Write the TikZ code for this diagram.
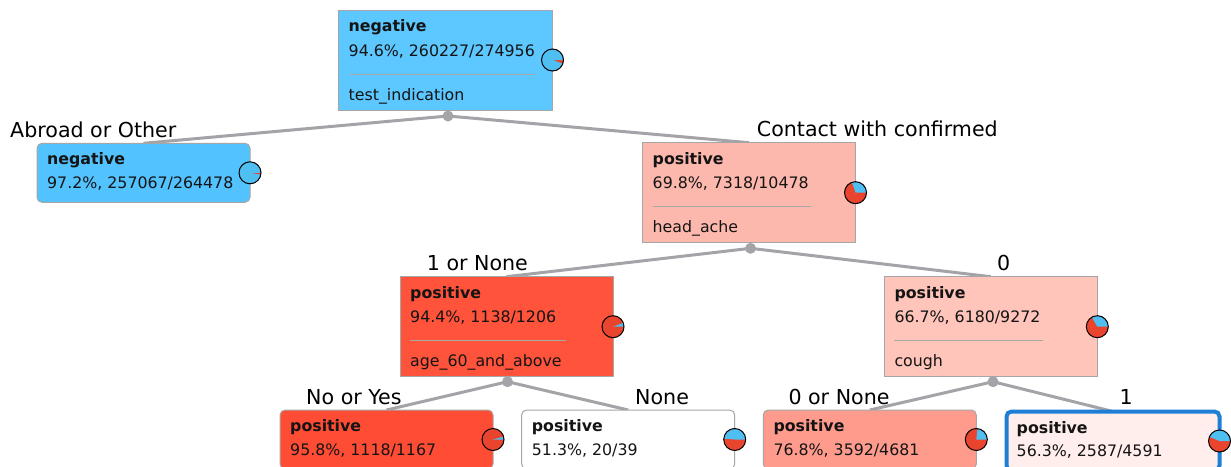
\documentclass[tikz,border=0pt]{standalone}
\usepackage{fontspec}
\setmainfont{DejaVu Sans}
\usetikzlibrary{backgrounds}

\definecolor{edgegray}{HTML}{A4A4A8}
\definecolor{boxgray}{HTML}{A6A6A6}
\definecolor{sepgray}{HTML}{A8A8A8}
\definecolor{pieblue}{HTML}{4FBFF2}
\definecolor{piered}{HTML}{E8442E}
\definecolor{selblue}{HTML}{1F7FD7}
\definecolor{textdark}{HTML}{141414}
% node fills, shaded by class purity
\definecolor{fillroot}{HTML}{5CC8FF}
\definecolor{fillneg}{HTML}{52C3FF}
\definecolor{fillpa}{HTML}{FDB8AD}
\definecolor{fillpb}{HTML}{FF533B}
\definecolor{fillpc}{HTML}{FFC4BA}
\definecolor{fillpd}{HTML}{FF4C34}
\definecolor{fillpe}{HTML}{FFFFFF}
\definecolor{fillpf}{HTML}{FF9B8D}
\definecolor{fillpg}{HTML}{FFEEEB}

\tikzset{
  treebox/.style={draw=boxgray, line width=1pt, anchor=north west,
    inner sep=0pt, outer sep=0pt, minimum width=213pt},
  leafbox/.style={treebox, rounded corners=5pt, minimum height=59pt},
  splitbox/.style={treebox, minimum height=100pt},
  selected/.style={draw=selblue, line width=4pt},
  classtext/.style={anchor=base west, inner sep=0pt, text=textdark,
    font=\fontsize{15.8}{18}\selectfont\bfseries},
  stattext/.style={anchor=base west, inner sep=0pt, text=textdark,
    font=\fontsize{15.8}{18}\selectfont},
  edgelabel/.style={anchor=base west, inner sep=0pt, text=black,
    font=\fontsize{20.6}{24}\selectfont},
  sepline/.style={draw=sepgray, line width=1pt},
  edge/.style={draw=edgegray, line width=3pt},
  dot/.style={circle, fill=edgegray, minimum size=11pt, inner sep=0pt}
}

% split node: name, x, y, fill, class, stats, attribute, separator length
\newcommand\splitnode[8]{%
  \node[splitbox, fill=#4] (#1) at (#2,#3) {};
  \path (#1.north west) ++(10,21.5) node[classtext] {#5}
        (#1.north west) ++(10,46) node[stattext] {#6}
        (#1.north west) ++(10,90) node[stattext] {#7};
  \draw[sepline] (#1.north west) ++(10,64) -- ++(#8,0);
}
% leaf node: [extra style] name, x, y, fill, class, stats
\newcommand\leafnode[7][]{%
  \node[leafbox, fill=#5, #1] (#2) at (#3,#4) {};
  \path (#2.north west) ++(10,21.5) node[classtext] {#6}
        (#2.north west) ++(10,45) node[stattext] {#7};
}
% class distribution pie on the right edge of a node; #2 = angle of the negative share
\newcommand\piechart[2]{%
  \fill[piered] (#1.east) circle[radius=11pt];
  \fill[pieblue] (#1.east) -- ++(0:11pt) arc[start angle=0, end angle=#2, radius=11pt] -- cycle;
  \draw[black, line width=1pt] (#1.east) circle[radius=11pt];
}

\begin{document}
\begin{tikzpicture}[x=1pt, y=-1pt]
  \useasboundingbox (0,0) rectangle (1231,466);
  \clip (0,0) rectangle (1231,466);
  \begin{scope}[on background layer]
    \fill[white] (0,0) rectangle (1231,466);
  \end{scope}

  % nodes
  \node[splitbox, fill=fillroot, minimum width=214pt] (n0) at (338.5,10) {};
  \path (n0.north west) ++(10,21.5) node[classtext] {negative}
        (n0.north west) ++(10,46) node[stattext] {94.6\%, 260227/274956}
        (n0.north west) ++(10,90) node[stattext] {test\_indication};
  \draw[sepline] (n0.north west) ++(10,64) -- ++(186,0);

  \leafnode{n1}{37}{143.3}{fillneg}{negative}{97.2\%, 257067/264478}
  \splitnode{n2}{642.5}{142.7}{fillpa}{positive}{69.8\%, 7318/10478}{head\_ache}{158}
  \splitnode{n3}{400}{276.7}{fillpb}{positive}{94.4\%, 1138/1206}{age\_60\_and\_above}{156}
  \splitnode{n4}{884.3}{276.7}{fillpc}{positive}{66.7\%, 6180/9272}{cough}{149}
  \leafnode{n5}{280}{410}{fillpd}{positive}{95.8\%, 1118/1167}
  \leafnode{n6}{521.7}{410}{fillpe}{positive}{51.3\%, 20/39}
  \leafnode{n7}{763.3}{410}{fillpf}{positive}{76.8\%, 3592/4681}
  \leafnode[selected]{n8}{1006.5}{411.5}{fillpg}{positive}{56.3\%, 2587/4591}

  % class distribution pies
  \piechart{n0}{340.6}
  \piechart{n1}{349.9}
  \piechart{n2}{108.7}
  \piechart{n3}{20.2}
  \piechart{n4}{120.1}
  \piechart{n5}{15.1}
  \piechart{n6}{175.4}
  \piechart{n7}{83.8}
  \piechart{n8}{157.1}

  % split points
  \node[dot] (d0) at (448,116) {};
  \node[dot] (d2) at (750.5,248.3) {};
  \node[dot] (d3) at (507.5,381.7) {};
  \node[dot] (d4) at (993,381.7) {};

  % branches
  \begin{scope}[on background layer]
    \draw[edge] (d0.center) -- (n1.north);
    \draw[edge] (d0.center) -- (n2.north);
    \draw[edge] (d2.center) -- (n3.north);
    \draw[edge] (d2.center) -- (n4.north);
    \draw[edge] (d3.center) -- (n5.north);
    \draw[edge] (d3.center) -- (n6.north);
    \draw[edge] (d4.center) -- (n7.north);
    \draw[edge] (d4.center) -- (n8.north);
  \end{scope}

  % branch labels
  \node[edgelabel] (l1) at (10,137.7) {Abroad or Other};
  \node[edgelabel] (l2) at (756.7,136.7) {Contact with confirmed};
  \node[edgelabel] (l3) at (426.7,270.7) {1 or None};
  \node[edgelabel] (l4) at (997,270.7) {0};
  \node[edgelabel] (l5) at (306,404) {No or Yes};
  \node[edgelabel] (l6) at (635,404) {None};
  \node[edgelabel] (l7) at (788.3,404) {0 or None};
  \node[edgelabel] (l8) at (1119.5,404) {1};
\end{tikzpicture}
\end{document}
